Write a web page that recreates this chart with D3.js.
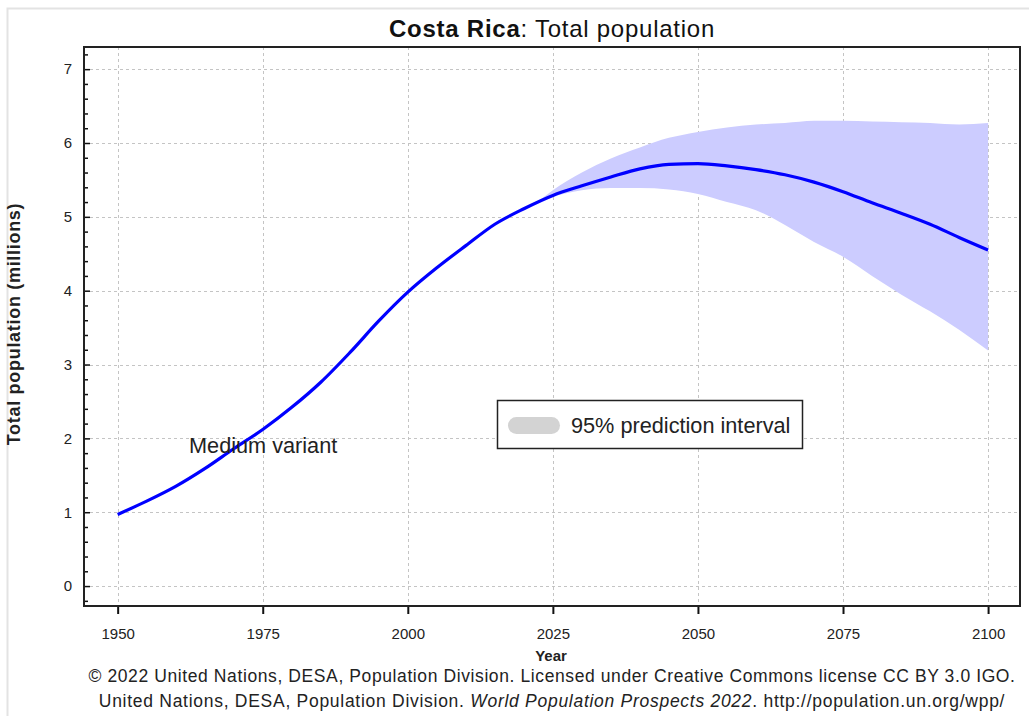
<!DOCTYPE html>
<html>
<head>
<meta charset="utf-8">
<script src="https://cdn.jsdelivr.net/npm/d3@7"></script>
<style>
  html, body { margin: 0; padding: 0; background: #fff; }
  svg { display: block; font-family: "Liberation Sans", Arial, sans-serif; }
</style>
</head>
<body>
<svg id="chart" width="1029" height="716"></svg>
<script>
// Costa Rica, total population in millions (medium variant, 1950-2100)
const years = [1950, 1955, 1960, 1965, 1970, 1975, 1980, 1985, 1990, 1995, 2000,
  2005, 2010, 2015, 2020, 2025, 2030, 2035, 2040, 2045, 2050, 2055, 2060,
  2065, 2070, 2075, 2080, 2085, 2090, 2095, 2100];
const medium = [0.97, 1.15, 1.35, 1.59, 1.86, 2.12, 2.42, 2.76, 3.16, 3.59, 3.98,
  4.31, 4.61, 4.90, 5.11, 5.29, 5.42, 5.54, 5.65, 5.71, 5.72, 5.69, 5.64,
  5.57, 5.47, 5.34, 5.19, 5.05, 4.90, 4.72, 4.55];

// 95% prediction interval of the projection
const bandYears = [2022, 2025, 2030, 2035, 2040, 2045, 2050, 2055, 2060, 2065,
  2070, 2075, 2080, 2085, 2090, 2095, 2100];
const upper95 = [5.18, 5.36, 5.60, 5.79, 5.94, 6.07, 6.15, 6.21, 6.25, 6.27,
  6.30, 6.30, 6.29, 6.28, 6.27, 6.25, 6.27];
const lower95 = [5.18, 5.27, 5.36, 5.39, 5.39, 5.37, 5.31, 5.20, 5.09, 4.89,
  4.66, 4.46, 4.20, 3.95, 3.72, 3.47, 3.19];

const xTicks = [1950, 1975, 2000, 2025, 2050, 2075, 2100];
const yTicks = [0, 1, 2, 3, 4, 5, 6, 7];

const svg = d3.select("#chart");
const plotL = 84, plotR = 1020, plotT = 47, plotB = 606;

const x = d3.scaleLinear().domain([1944.2, 2105.5]).range([plotL, plotR]);
const y = d3.scaleLinear().domain([-0.27, 7.3]).range([plotB, plotT]);

// outer panel border
svg.append("rect")
  .attr("x", 7.5).attr("y", 8.5).attr("width", 1100).attr("height", 800)
  .attr("fill", "none").attr("stroke", "#e3e3e3").attr("stroke-width", 2);

// grid
const grid = svg.append("g").attr("stroke", "#c4c4c4").attr("stroke-width", 1)
  .attr("stroke-dasharray", "3,3");
grid.selectAll("line.v").data(xTicks).join("line")
  .attr("x1", d => Math.round(x(d)) + 0.5).attr("x2", d => Math.round(x(d)) + 0.5)
  .attr("y1", plotT).attr("y2", plotB);
grid.selectAll("line.h").data(yTicks).join("line")
  .attr("y1", d => Math.round(y(d)) + 0.5).attr("y2", d => Math.round(y(d)) + 0.5)
  .attr("x1", plotL).attr("x2", plotR);

// prediction band
const bandData = bandYears.map((yr, i) => ({ yr, lo: lower95[i], hi: upper95[i] }));
svg.append("path")
  .datum(bandData)
  .attr("fill", "#ccccff")
  .attr("d", d3.area()
    .x(d => x(d.yr)).y0(d => y(d.lo)).y1(d => y(d.hi))
    .curve(d3.curveMonotoneX));

// medium variant line
const lineData = years.map((yr, i) => ({ yr, v: medium[i] }));
svg.append("path")
  .datum(lineData)
  .attr("fill", "none")
  .attr("stroke", "#0000ff")
  .attr("stroke-width", 3.2)
  .attr("stroke-linejoin", "round")
  .attr("d", d3.line().x(d => x(d.yr)).y(d => y(d.v)).curve(d3.curveMonotoneX));

svg.append("text")
  .attr("x", 189).attr("y", 453)
  .attr("font-size", 21.7).attr("fill", "#222")
  .text("Medium variant");

// x axis (ticks outward)
const xAxis = svg.append("g").attr("transform", `translate(0,${plotB})`)
  .call(d3.axisBottom(x).tickValues(xTicks).tickFormat(d3.format("d"))
    .tickSize(8).tickPadding(14));
xAxis.select(".domain").remove();
xAxis.selectAll(".tick line").attr("stroke", "#111").attr("stroke-width", 2);
xAxis.selectAll(".tick text").attr("font-size", 15).attr("fill", "#222")
  .attr("font-family", "Liberation Sans, Arial, sans-serif");

// y axis (ticks inward, minor ticks every 0.2)
const yMinor = d3.range(-0.2, 7.21, 0.2).filter(v => Math.abs(v - Math.round(v)) > 1e-6);
const yAxisMinor = svg.append("g").attr("transform", `translate(${plotL},0)`)
  .call(d3.axisRight(y).tickValues(yMinor).tickSize(4).tickFormat(""));
yAxisMinor.select(".domain").remove();
yAxisMinor.selectAll(".tick line").attr("stroke", "#111").attr("stroke-width", 1.5);

const yAxis = svg.append("g").attr("transform", `translate(${plotL},0)`)
  .call(d3.axisRight(y).tickValues(yTicks).tickSize(6).tickFormat(d3.format("d")));
yAxis.select(".domain").remove();
yAxis.selectAll(".tick line").attr("stroke", "#111").attr("stroke-width", 1.5);
yAxis.selectAll(".tick text")
  .attr("x", -12).attr("text-anchor", "end")
  .attr("font-size", 15).attr("fill", "#222")
  .attr("font-family", "Liberation Sans, Arial, sans-serif");

// plot frame
svg.append("rect")
  .attr("x", plotL).attr("y", plotT).attr("width", plotR - plotL).attr("height", plotB - plotT)
  .attr("fill", "none").attr("stroke", "#222").attr("stroke-width", 2);

// legend
svg.append("rect")
  .attr("x", 497.5).attr("y", 400.5).attr("width", 305).attr("height", 48)
  .attr("fill", "#fff").attr("stroke", "#222").attr("stroke-width", 1.5);
svg.append("rect")
  .attr("x", 508).attr("y", 417).attr("width", 52).attr("height", 17).attr("rx", 8.5)
  .attr("fill", "#d3d3d3");
svg.append("text")
  .attr("x", 571).attr("y", 433)
  .attr("font-size", 21.7).attr("fill", "#222")
  .text("95% prediction interval");

// title
const title = svg.append("text")
  .attr("x", 552).attr("y", 37).attr("text-anchor", "middle")
  .attr("font-size", 24).attr("letter-spacing", 0.75).attr("fill", "#111");
title.append("tspan").attr("font-weight", "bold").text("Costa Rica");
title.append("tspan").text(": Total population");

// axis titles
svg.append("text")
  .attr("transform", "translate(20,324) rotate(-90)")
  .attr("text-anchor", "middle")
  .attr("font-size", 18).attr("letter-spacing", 0.7)
  .attr("font-weight", "bold").attr("fill", "#222")
  .text("Total population (millions)");
svg.append("text")
  .attr("x", 551).attr("y", 661).attr("text-anchor", "middle")
  .attr("font-size", 15).attr("font-weight", "bold").attr("fill", "#222")
  .text("Year");

// source notes
svg.append("text")
  .attr("x", 552).attr("y", 682).attr("text-anchor", "middle")
  .attr("font-size", 17.5).attr("letter-spacing", 0.6).attr("fill", "#222")
  .text("© 2022 United Nations, DESA, Population Division. Licensed under Creative Commons license CC BY 3.0 IGO.");
const note = svg.append("text")
  .attr("x", 552).attr("y", 707).attr("text-anchor", "middle")
  .attr("font-size", 17.5).attr("letter-spacing", 0.72).attr("fill", "#222");
note.append("tspan").text("United Nations, DESA, Population Division. ");
note.append("tspan").attr("font-style", "italic").text("World Population Prospects 2022");
note.append("tspan").text(". http://population.un.org/wpp/");
</script>
</body>
</html>
